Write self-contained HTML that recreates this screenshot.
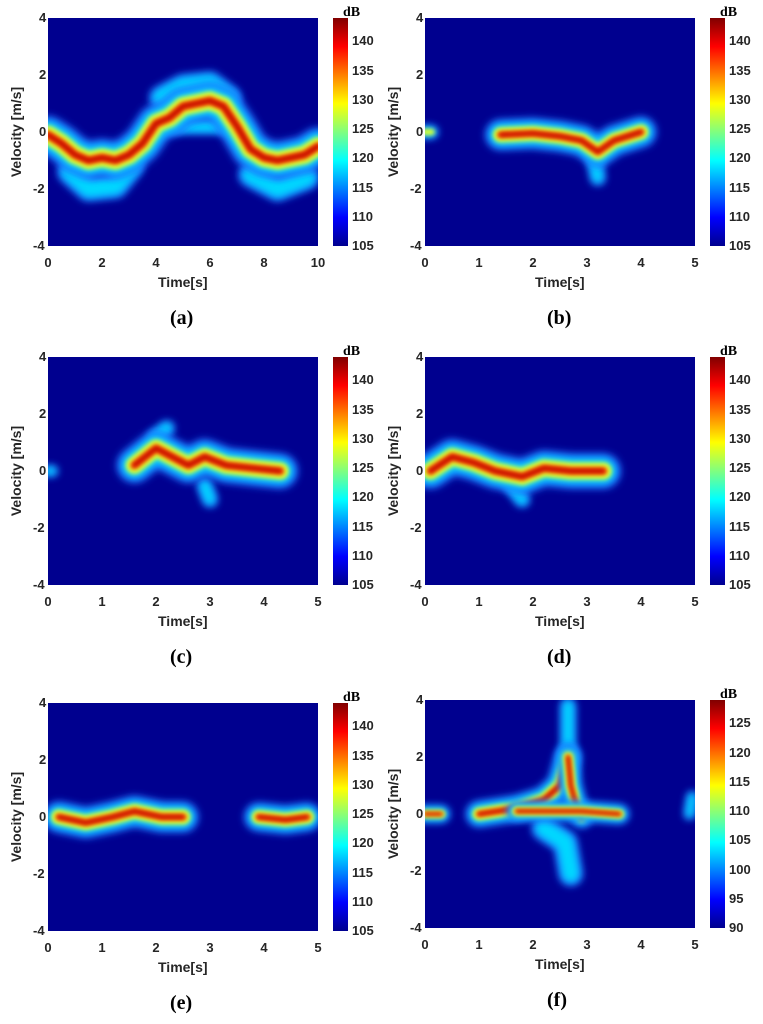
<!DOCTYPE html>
<html><head><meta charset="utf-8"><style>
body{margin:0;background:#fff;width:763px;height:1024px;position:relative;overflow:hidden;font-family:"Liberation Sans",sans-serif}
.t{position:absolute;font-weight:bold;color:#262626;font-size:13px;line-height:1;white-space:nowrap}
.cap{position:absolute;font-family:"Liberation Serif",serif;font-weight:bold;font-size:20px;color:#000;line-height:1;white-space:nowrap}
</style></head><body>
<svg id="s" width="763" height="1024" style="position:absolute;left:0;top:0">
<defs>
<linearGradient id="jet" x1="0" y1="1" x2="0" y2="0">
<stop offset="0" stop-color="#00008f"/><stop offset="0.125" stop-color="#0000ff"/>
<stop offset="0.375" stop-color="#00ffff"/><stop offset="0.625" stop-color="#ffff00"/>
<stop offset="0.875" stop-color="#ff0000"/><stop offset="1" stop-color="#800000"/>
</linearGradient>
<filter id="b1" filterUnits="userSpaceOnUse" x="-100" y="-100" width="1000" height="1000"><feGaussianBlur stdDeviation="4"/></filter>
<filter id="b2" filterUnits="userSpaceOnUse" x="-100" y="-100" width="1000" height="1000"><feGaussianBlur stdDeviation="2"/></filter>
</defs>
</svg>
<script>
const s=document.getElementById('s');const NS='http://www.w3.org/2000/svg';
function el(t,a,p){const e=document.createElementNS(NS,t);for(const k in a)e.setAttribute(k,a[k]);(p||s).appendChild(e);return e}
function txt(x,y,str,cls,extra){const d=document.createElement('div');d.className=cls||'t';d.textContent=str;d.style.left=x+'px';d.style.top=y+'px';if(extra)Object.assign(d.style,extra);document.body.appendChild(d);return d}
let cid=0;
function panel(X,Y,T,cb,layers,cap){
 const W=270,H=228;
 const g=el('g',{transform:`translate(${X},${Y})`});
 const id='c'+(cid++);
 const cp=el('clipPath',{id},g);
 el('rect',{x:0,y:0,width:W,height:H},cp);
 el('rect',{x:0,y:0,width:W,height:H,fill:'#00008f'},g);
 const gg=el('g',{'clip-path':`url(#${id})`},g);
 const px=t=>t/T*W, py=v=>H/2-v*H/8;
 for(const L of layers){
  const d=L.pts.map((p,i)=>(i?'L':'M')+px(p[0]).toFixed(1)+','+py(p[1]).toFixed(1)).join(' ');
  const cols=[['#1e6bff',L.w*1.1,'b1'],['#00d8ff',L.w*0.8,'b1'],['#d8ff30',L.w*0.55,'b2'],['#ff4000',L.w*0.25,'b2'],['#b00000',L.w*0.1,'b2']];
  cols.slice(0,L.lv||5).forEach(c=>el('path',{d,fill:'none',stroke:c[0],'stroke-width':c[1],'stroke-linecap':'round','stroke-linejoin':'round',filter:`url(#${c[2]})`},gg));
 }
 [4,2,0,-2,-4].forEach(v=>txt(X-(v<0?15:9),Y+py(v)-7,String(v)));
 const n=T==10?[0,2,4,6,8,10]:[0,1,2,3,4,5];
 n.forEach(t=>{const s2=String(t);txt(X+px(t)-(s2.length*3.6),Y+H+10,s2)});
 txt(X+W/2-25,Y+H+29,'Time[s]',null,{fontSize:'14px'});
 txt(X-82,Y+H/2-7,'Velocity [m/s]',null,{fontSize:'14px',transform:'rotate(-90deg)',width:'100px',textAlign:'center'});
 const cx=X+W+15;
 el('rect',{x:cx,y:Y,width:15,height:H,fill:'url(#jet)'});
 txt(cx+10,Y-12,'dB','cap',{fontSize:'14px'});
 const [lo,hi]=cb;const labs=[];for(let k=lo;k<=hi;k+=5)labs.push(k);
 const top=hi+4, rng=top-lo;
 labs.forEach(k=>txt(cx+19,Y+H-(k-lo)/rng*H-7,String(k)));
 txt(X+W/2-13,Y+H+62,cap,'cap');
}
const A=[[0,-0.1],[0.5,-0.4],[1,-0.8],[1.5,-1],[2,-0.9],[2.5,-1],[3,-0.8],[3.5,-0.4],[4,0.3],[4.5,0.5],[5,0.9],[5.5,1],[6,1.1],[6.5,0.9],[7,0.2],[7.5,-0.6],[8,-0.9],[8.5,-1],[9,-0.9],[9.5,-0.8],[10,-0.5]];
panel(48,18,10,[105,140],[
 {pts:[[0.8,-1.4],[1.5,-2],[2.5,-1.9],[3.1,-1.2]],w:22,lv:2},
 {pts:[[7.5,-1.5],[8.5,-2],[9.6,-1.6]],w:22,lv:2},
 {pts:[[4.2,1.2],[5,1.6],[6,1.7],[6.7,1.2]],w:22,lv:2},
 {pts:[[4.2,0.2],[5.5,0.2],[6.7,0.2]],w:14,lv:2},
 {pts:A,w:34}
],'(a)');
panel(425,18,5,[105,140],[
 {pts:[[0,0],[0.12,0]],w:12,lv:3},
 {pts:[[3.1,-0.6],[3.2,-1.6]],w:14,lv:2},
 {pts:[[1.4,-0.1],[2,-0.05],[2.5,-0.15],[2.9,-0.3],[3.2,-0.7],[3.5,-0.3],[4,0]],w:28}
],'(b)');
panel(48,357,5,[105,140],[
 {pts:[[0,0],[0.08,0]],w:10,lv:2},
 {pts:[[2.9,-0.5],[3,-1]],w:14,lv:2},
 {pts:[[2,1.2],[2.2,1.5]],w:14,lv:2},
 {pts:[[1.6,0.2],[2,0.8],[2.3,0.5],[2.6,0.2],[2.9,0.5],[3.3,0.2],[3.8,0.1],[4.3,0]],w:32}
],'(c)');
panel(425,357,5,[105,140],[
 {pts:[[1.6,-0.5],[1.8,-1]],w:14,lv:2},
 {pts:[[0.1,0],[0.5,0.5],[0.9,0.3],[1.3,0],[1.8,-0.2],[2.2,0.1],[2.7,0],[3.3,0]],w:32}
],'(d)');
panel(48,703,5,[105,140],[
 {pts:[[0.2,0],[0.7,-0.2],[1.2,0],[1.6,0.2],[2.1,0],[2.5,0]],w:28},
 {pts:[[3.9,0],[4.4,-0.1],[4.8,0]],w:26}
],'(e)');
panel(425,700,5,[90,125],[
 {pts:[[0,0],[0.3,0]],w:16,lv:5},
 {pts:[[2.65,3.8],[2.65,2]],w:14,lv:2},
 {pts:[[2.2,-0.5],[2.6,-1],[2.7,-2.1]],w:22,lv:2},
 {pts:[[1,0],[1.7,0.2],[2.2,0.5],[2.5,1],[2.65,2]],w:24},
 {pts:[[2.65,2],[2.7,1],[2.8,0.3],[2.9,-0.1]],w:20},
 {pts:[[1.7,0.1],[2.9,0.1],[3.6,0]],w:18},
 {pts:[[4.9,0],[4.95,0.6]],w:10,lv:2}
],'(f)');
</script>
</body></html>
